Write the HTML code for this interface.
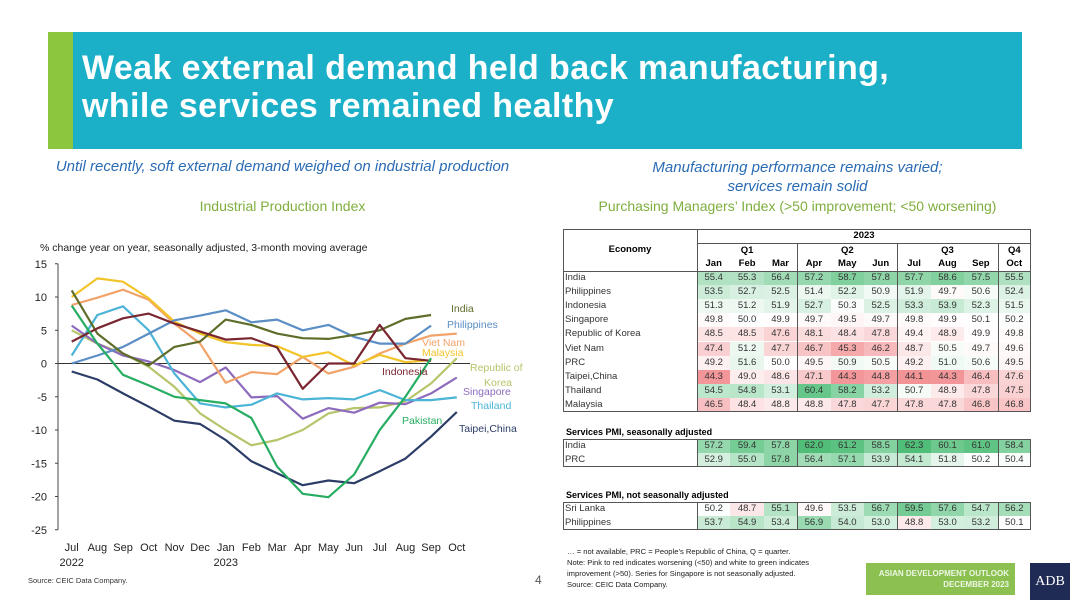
<!DOCTYPE html>
<html><head><meta charset="utf-8">
<style>
body{margin:0;width:1080px;height:608px;background:#fff;font-family:"Liberation Sans",sans-serif;position:relative;overflow:hidden}
.abs{position:absolute}
.banner{left:48px;top:32px;width:974px;height:117px;background:#1cb0c8}
.stripe{left:48px;top:32px;width:25px;height:117px;background:#8cc63f}
.title{left:82px;top:49px;color:#fff;font-weight:bold;font-size:34px;letter-spacing:0.4px;line-height:38px;white-space:nowrap}
.sub{color:#2a6bb4;font-style:italic;font-size:15px;text-align:center;white-space:nowrap}
.gsub{color:#7fae3e;font-size:14px;text-align:center;white-space:nowrap}
.cell{position:absolute;font-size:9.5px;color:#333;text-align:center;line-height:14px}
.lbl{position:absolute;font-size:9.5px;color:#333;line-height:14px;padding-left:2px}
.note{font-size:7.6px;color:#222;line-height:11px}
</style></head><body>
<div class="abs banner"></div>
<div class="abs stripe"></div>
<div class="abs title">Weak external demand held back manufacturing,<br>while services remained healthy</div>

<div class="abs sub" style="left:20px;width:525px;top:158px">Until recently, soft external demand weighed on industrial production</div>
<div class="abs gsub" style="left:20px;width:525px;top:198px">Industrial Production Index</div>
<div class="abs sub" style="left:560px;width:475px;top:158px;line-height:19px">Manufacturing performance remains varied;<br>services remain solid</div>
<div class="abs gsub" style="left:560px;width:475px;top:198px">Purchasing Managers’ Index (&gt;50 improvement; &lt;50 worsening)</div>

<svg class="abs" style="left:0;top:0" width="560" height="608" id="chart">
<text x="40" y="251" font-size="10.5" fill="#222">% change year on year, seasonally adjusted, 3-month moving average</text>
</svg>

<div id="tables"></div>

<div class="abs note" style="left:567px;top:546px">… = not available, PRC = People’s Republic of China, Q = quarter.<br>Note: Pink to red indicates worsening (&lt;50) and white to green indicates<br>improvement (&gt;50). Series for Singapore is not seasonally adjusted.<br>Source: CEIC Data Company.</div>
<div class="abs" style="left:866px;top:563px;width:149px;height:32px;background:#8cc152;color:#eef6e4;font-size:8px;font-weight:bold;text-align:right;line-height:11px;box-sizing:border-box;padding:5px 6px 0 0">ASIAN DEVELOPMENT OUTLOOK<br>DECEMBER 2023</div>
<div class="abs" style="left:1030px;top:563px;width:40px;height:37px;background:#1f2a55;color:#fff;font-family:'Liberation Serif',serif;font-size:14px;text-align:center;line-height:37px">ADB</div>
<div class="abs" style="left:535px;top:573px;font-size:12px;color:#555">4</div>
<div class="abs" style="left:28px;top:576px;font-size:7.5px;color:#333">Source: CEIC Data Company.</div>

<script>
const months=["Jul","Aug","Sep","Oct","Nov","Dec","Jan","Feb","Mar","Apr","May","Jun","Jul","Aug","Sep","Oct"];
const yTicks=[15,10,5,0,-5,-10,-15,-20,-25];
const seriesNames=["India","Philippines","Viet Nam","Malaysia","Indonesia","Republic of Korea","Singapore","Thailand","Pakistan","Taipei,China"];
const india=[11,4.5,1.5,-0.3,2.5,3.3,6.6,5.8,4.5,3.8,3.7,4.3,5,6.7,7.3];
const philippines=[0,1.2,2.5,4.5,6.5,7.2,8,6.2,6.6,5,5.8,4,3,3,5.7];
const vietnam=[8.8,9.9,11.1,9.6,6,3,-2.9,-1.3,-1.6,1,-1.5,-0.5,1.5,3,4.2,4.5];
const malaysia=[10,12.8,12.3,9.8,6.3,4.5,3.2,2.8,2.6,1,1.7,-0.3,1.3,0.2,0.5];
const indonesia=[3.3,5.3,6.8,7.5,6,4.8,3.6,3.8,2.4,-3.8,0,0,5.8,0.8,0.4];
const korea=[5,3,1.5,-0.5,-3.5,-7.5,-10,-12.3,-11.5,-10,-7.5,-6.7,-6.6,-5.7,-3,0.8];
const singapore=[5.7,3,1.2,0.3,-1,-2.8,-0.6,-5.1,-4.9,-8.3,-6.7,-7.4,-5.9,-6.1,-4.5,-2.1];
const thailand=[1.2,7.3,8.6,5,-1.5,-6,-6.6,-6.2,-4.5,-5.4,-5.2,-5.4,-4,-5.5,-5.5,-5.1];
const pakistan=[8.7,3,-1.7,-3.3,-5,-5.5,-6,-8.2,-15.5,-19.6,-20.1,-16.7,-10,-5,0.8];
const taipei=[-1.2,-2.4,-4.5,-6.5,-8.6,-9.1,-11.5,-14.7,-16.5,-18.3,-17.6,-18,-16.2,-14.3,-11,-7.3];

const NS="http://www.w3.org/2000/svg";
const svg=document.getElementById('chart');
const X=i=>71.7+i*25.67;
const Y=v=>363.5-v*6.65;
function mk(t,a){const e=document.createElementNS(NS,t);for(const k in a)e.setAttribute(k,a[k]);svg.appendChild(e);return e;}
let ax=mk('line',{x1:58,y1:Y(15),x2:58,y2:Y(-25),stroke:'#444','stroke-width':1});


yTicks.forEach(t=>{
  const l=mk('line',{x1:55,x2:58,y1:Y(t),y2:Y(t),stroke:'#444'});
  
  
  const tx=mk('text',{x:47,y:Y(t)+4,'font-size':11,fill:'#222','text-anchor':'end'});
  tx.textContent=t;
  
  
});
const zl=mk('line',{x1:58,x2:470,y1:Y(0),y2:Y(0),stroke:'#333'});


months.forEach((m,i)=>{
  const tx=mk('text',{x:X(i),y:551,'font-size':11,fill:'#222','text-anchor':'middle'});
  tx.textContent=m;
  
  
});
[[0,"2022"],[6,"2023"]].forEach(([i,s])=>{
  const tx=mk('text',{x:X(i),y:566,'font-size':11,fill:'#222','text-anchor':'middle'});
  tx.textContent=s;
  
  
});
const data=[india,philippines,vietnam,malaysia,indonesia,korea,singapore,thailand,pakistan,taipei];
const colors=["#5e6e2a","#5b8ec4","#f2a36a","#f2c42a","#7a2630","#b6c56a","#8e6bbd","#4cb4d6","#26ad62","#2b3c66"];
const order=[5,6,7,2,3,1,0,4,9,8];
order.forEach(k=>{
  const d=data[k].map((v,i)=>(i?'L':'M')+X(i).toFixed(1)+','+Y(v).toFixed(1)).join('');
  const p=mk('path',{d:d,fill:'none',stroke:colors[k],'stroke-width':2.2,'stroke-linejoin':'round'});
  
  
});
const labels=[["India",451,312,0],["Philippines",447,328,1],["Viet Nam",422,346,2],["Malaysia",422,356,3],["Indonesia",382,375,4],["Republic of",470,371,5],["Korea",484,386,5],["Singapore",463,395,6],["Thailand",471,409,7],["Pakistan",402,424,8],["Taipei,China",459,432,9]];
labels.forEach(([s,x,y,k])=>{
  const tx=mk('text',{x:x,y:y,'font-size':10.5,fill:colors[k]});
  tx.textContent=s;
  
  
});

/* tables */
const pmiEconomies=["India","Philippines","Indonesia","Singapore","Republic of Korea","Viet Nam","PRC","Taipei,China","Thailand","Malaysia"];
const pmiValues=[
[55.4,55.3,56.4,57.2,58.7,57.8,57.7,58.6,57.5,55.5],
[53.5,52.7,52.5,51.4,52.2,50.9,51.9,49.7,50.6,52.4],
[51.3,51.2,51.9,52.7,50.3,52.5,53.3,53.9,52.3,51.5],
[49.8,50.0,49.9,49.7,49.5,49.7,49.8,49.9,50.1,50.2],
[48.5,48.5,47.6,48.1,48.4,47.8,49.4,48.9,49.9,49.8],
[47.4,51.2,47.7,46.7,45.3,46.2,48.7,50.5,49.7,49.6],
[49.2,51.6,50.0,49.5,50.9,50.5,49.2,51.0,50.6,49.5],
[44.3,49.0,48.6,47.1,44.3,44.8,44.1,44.3,46.4,47.6],
[54.5,54.8,53.1,60.4,58.2,53.2,50.7,48.9,47.8,47.5],
[46.5,48.4,48.8,48.8,47.8,47.7,47.8,47.8,46.8,46.8]];
const saEconomies=["India","PRC"];
const saValues=[[57.2,59.4,57.8,62.0,61.2,58.5,62.3,60.1,61.0,58.4],[52.9,55.0,57.8,56.4,57.1,53.9,54.1,51.8,50.2,50.4]];
const nsaEconomies=["Sri Lanka","Philippines"];
const nsaValues=[[50.2,48.7,55.1,49.6,53.5,56.7,59.5,57.6,54.7,56.2],[53.7,54.9,53.4,56.9,54.0,53.0,48.8,53.0,53.2,50.1]];
const monthCols=["Jan","Feb","Mar","Apr","May","Jun","Jul","Aug","Sep","Oct"];

const T=document.getElementById('tables');
const L=563,M=697,R=1031,CW=(R-M)/10,RH=14.1;
function div(css,txt,cls){const e=document.createElement('div');e.style.cssText='position:absolute;'+css;if(cls)e.className=cls;if(txt!=null)e.textContent=txt;T.appendChild(e);return e;}
function col(v){
  if(v>50){const t=Math.min((v-50)/12,1);return `rgb(${Math.round(255-t*(255-80))},${Math.round(255-t*(255-190))},${Math.round(255-t*(255-120))})`;}
  if(v<50){const t=Math.min((50-v)/6,1);return `rgb(${Math.round(255-t*(255-242))},${Math.round(255-t*(255-145))},${Math.round(255-t*(255-148))})`;}
  return '#fff';
}
function table(top,names,vals,nm){
  names.forEach((n,r)=>{
    const y=top+r*RH;
    const lb=div(`left:${L}px;top:${y}px;width:${M-L}px;height:${RH}px`,n,'lbl');
    
    
    vals[r].forEach((v,c)=>{
      const ce=div(`left:${M+c*CW}px;top:${y}px;width:${CW}px;height:${RH}px;background:${col(v)}`,v.toFixed(1),'cell');
      
      
    });
  });
  const h=names.length*RH;
  const bx=div(`left:${L}px;top:${top}px;width:${R-L}px;height:${h}px;border:1px solid #555;box-sizing:border-box`);
  
  
  [M,M+3*CW,M+6*CW,M+9*CW].forEach(x=>div(`left:${x}px;top:${top}px;width:1px;height:${h}px;background:#555`));
}
/* header */
div(`left:${L}px;top:229px;width:${R-L}px;height:43px;border:1px solid #555;box-sizing:border-box`);
div(`left:${M}px;top:229px;width:1px;height:43px;background:#555`);
div(`left:${M}px;top:243px;width:${R-M}px;height:1px;background:#555`);
[3,6,9].forEach(c=>div(`left:${M+c*CW}px;top:243px;width:1px;height:29px;background:#555`));
div(`left:${L}px;top:244px;width:${M-L}px;font-size:9.5px;font-weight:bold;text-align:center`,'Economy');
div(`left:${M}px;top:230px;width:${R-M}px;font-size:9.5px;font-weight:bold;text-align:center`,'2023');
[["Q1",0,3],["Q2",3,3],["Q3",6,3],["Q4",9,1]].forEach(([q,s,n])=>div(`left:${M+s*CW}px;top:245px;width:${n*CW}px;font-size:9.5px;font-weight:bold;text-align:center`,q));
monthCols.forEach((m,c)=>div(`left:${M+c*CW}px;top:258px;width:${CW}px;font-size:9.5px;font-weight:bold;text-align:center`,m));
table(271,pmiEconomies,pmiValues,'manufacturing-pmi-table');
div(`left:566px;top:427px;font-size:9px;font-weight:bold`,'Services PMI, seasonally adjusted');
table(439,saEconomies,saValues,'services-sa-table');
div(`left:566px;top:490px;font-size:9px;font-weight:bold`,'Services PMI, not seasonally adjusted');
table(502,nsaEconomies,nsaValues,'services-nsa-table');
</script>
</body></html>
